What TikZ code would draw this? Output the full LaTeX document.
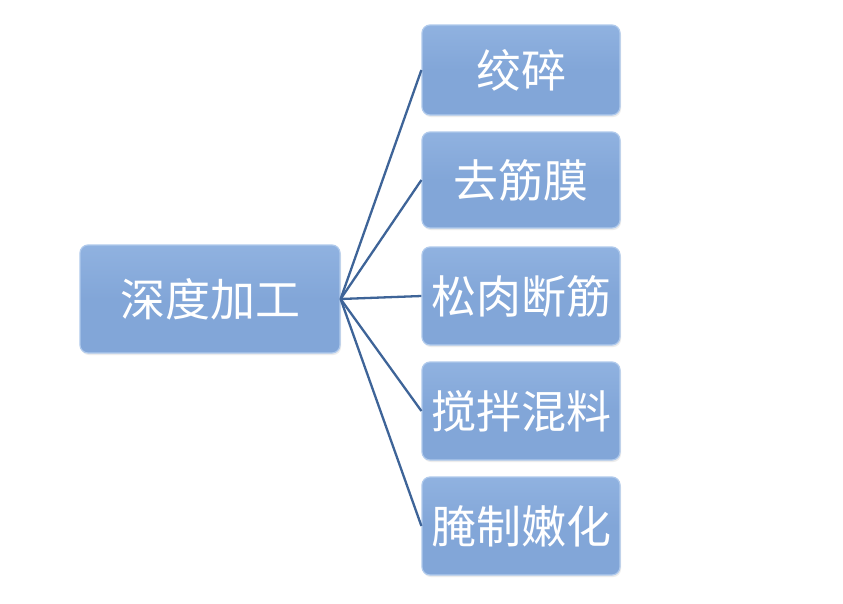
\documentclass[tikz,border=0pt]{standalone}
\usepackage{fontspec}
\newfontfamily\cjk{Noto Sans CJK SC}
\usetikzlibrary{shadows}
\definecolor{boxfill}{HTML}{82A6D8}
\definecolor{boxtop}{HTML}{90B2E0}
\definecolor{boxedge}{HTML}{B0CAEC}
\definecolor{linkc}{HTML}{3E6498}
\begin{document}
\begin{tikzpicture}[x=1pt,y=-1pt,
  card/.style={draw=boxedge, line width=1.2pt, rounded corners=8pt,
    top color=boxtop, bottom color=boxfill, middle color=boxfill,
    text=white, font=\cjk\fontsize{45}{45}\selectfont, inner sep=0pt,
    drop shadow={opacity=0.15, shadow xshift=1pt, shadow yshift=-2pt}},
  link/.style={draw=linkc, line width=2.3pt}]
\useasboundingbox (0,0) rectangle (843,603);
\fill[white] (0,0) rectangle (843,603);
\node[card, minimum width=260pt, minimum height=108pt] (root) at (210,299) {深度加工};
\node[card, minimum width=198pt, minimum height=90pt] (a) at (521,70) {绞碎};
\node[card, minimum width=198pt, minimum height=96pt] (b) at (521,180) {去筋膜};
\node[card, minimum width=198pt, minimum height=98pt] (c) at (521,296) {松肉断筋};
\node[card, minimum width=198pt, minimum height=98pt] (d) at (521,411) {搅拌混料};
\node[card, minimum width=198pt, minimum height=98pt] (e) at (521,526) {腌制嫩化};
\foreach \n in {a,b,c,d,e}{
  \draw[link] (root.east) -- (\n.west);
}
\end{tikzpicture}
\end{document}
